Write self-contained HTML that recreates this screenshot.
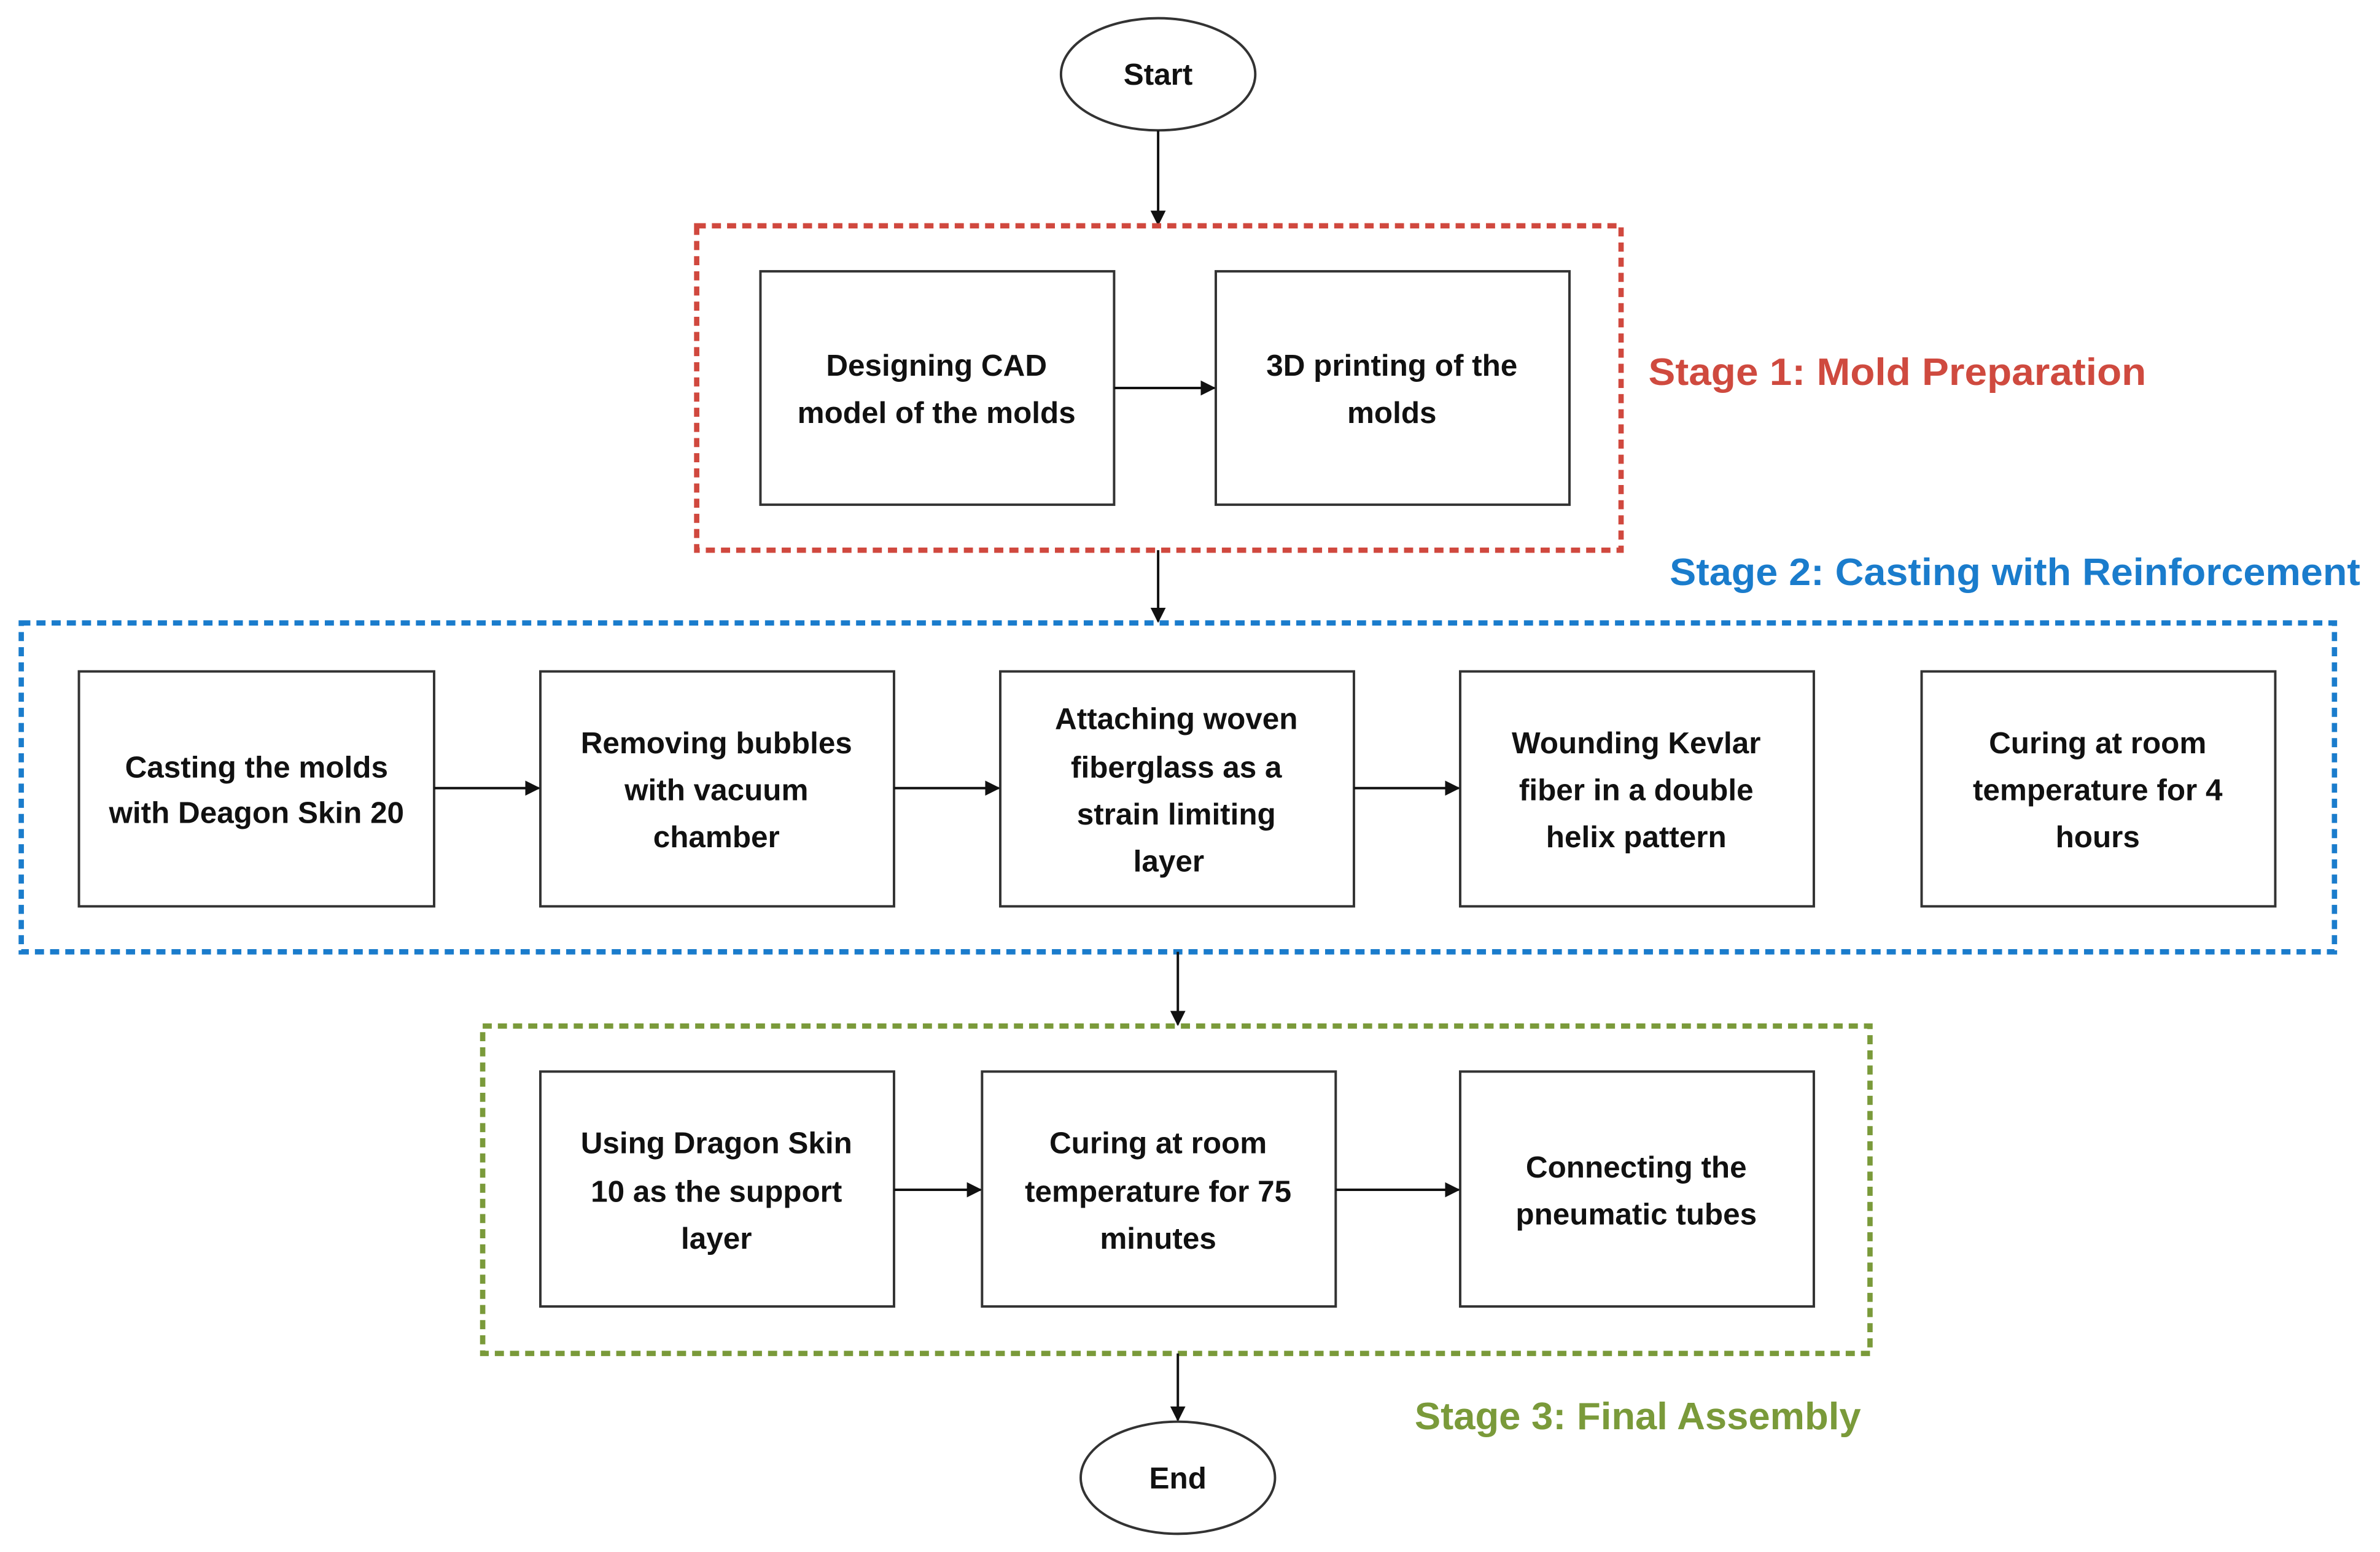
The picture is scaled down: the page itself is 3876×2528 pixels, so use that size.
<!DOCTYPE html>
<html><head><meta charset="utf-8"><style>
html,body{margin:0;padding:0;background:#fff;}
svg{display:block;}
.t{font-family:"Liberation Sans",sans-serif;font-weight:bold;font-size:20px;fill:#111;text-anchor:middle;}
.s{font-family:"Liberation Sans",sans-serif;font-weight:bold;font-size:25px;}
.b{fill:#fff;stroke:#333;stroke-width:1.6;}
.l{stroke:#111;stroke-width:1.6;fill:none;}
</style></head><body>
<svg width="3876" height="2528" viewBox="0 0 1568 1024" preserveAspectRatio="none" xmlns="http://www.w3.org/2000/svg">
<defs><marker id="a" markerWidth="10" markerHeight="10" refX="9" refY="5" orient="auto" markerUnits="userSpaceOnUse"><path d="M0,0 L10,5 L0,10 z" fill="#111"/></marker></defs>
<rect width="1568" height="1024" fill="#fff"/>
<!-- Start -->
<ellipse cx="763" cy="49" rx="64" ry="37" class="b"/>
<text x="763" y="56" class="t">Start</text>
<line x1="763" y1="86" x2="763" y2="148" class="l" marker-end="url(#a)"/>
<!-- Stage 1 -->
<rect x="459" y="149" width="609" height="214" fill="none" stroke="#d0483e" stroke-width="3.5" stroke-dasharray="6,4"/>
<rect x="501" y="179" width="233" height="154" class="b"/>
<rect x="801" y="179" width="233" height="154" class="b"/>
<text class="t"><tspan x="617" y="248">Designing CAD</tspan><tspan x="617" y="279">model of the molds</tspan></text>
<text class="t"><tspan x="917" y="248">3D printing of the</tspan><tspan x="917" y="279">molds</tspan></text>
<line x1="734" y1="256" x2="800" y2="256" class="l" marker-end="url(#a)"/>
<text x="1086" y="254" class="s" fill="#cf4a3f" textLength="328" lengthAdjust="spacingAndGlyphs">Stage 1: Mold Preparation</text>
<line x1="763" y1="363" x2="763" y2="410" class="l" marker-end="url(#a)"/>
<text x="1100" y="386" class="s" fill="#1a7ccc" textLength="455" lengthAdjust="spacingAndGlyphs">Stage 2: Casting with Reinforcement</text>
<!-- Stage 2 -->
<rect x="14" y="411" width="1524" height="217" fill="none" stroke="#1a7ccc" stroke-width="3.5" stroke-dasharray="6,4"/>
<rect x="52" y="443" width="234" height="155" class="b"/>
<rect x="356" y="443" width="233" height="155" class="b"/>
<rect x="659" y="443" width="233" height="155" class="b"/>
<rect x="962" y="443" width="233" height="155" class="b"/>
<rect x="1266" y="443" width="233" height="155" class="b"/>
<text class="t"><tspan x="169" y="513">Casting the molds</tspan><tspan x="169" y="543">with Deagon Skin 20</tspan></text>
<text class="t"><tspan x="472" y="497">Removing bubbles</tspan><tspan x="472" y="528">with vacuum</tspan><tspan x="472" y="559">chamber</tspan></text>
<text class="t"><tspan x="775" y="481">Attaching woven</tspan><tspan x="775" y="513">fiberglass  as a</tspan><tspan x="775" y="544">strain limiting</tspan><tspan x="770" y="575">layer</tspan></text>
<text class="t"><tspan x="1078" y="497">Wounding Kevlar</tspan><tspan x="1078" y="528">fiber in a double</tspan><tspan x="1078" y="559">helix pattern</tspan></text>
<text class="t"><tspan x="1382" y="497">Curing at room</tspan><tspan x="1382" y="528">temperature for 4</tspan><tspan x="1382" y="559">hours</tspan></text>
<line x1="286" y1="520" x2="355" y2="520" class="l" marker-end="url(#a)"/>
<line x1="589" y1="520" x2="658" y2="520" class="l" marker-end="url(#a)"/>
<line x1="892" y1="520" x2="961" y2="520" class="l" marker-end="url(#a)"/>
<line x1="776" y1="628" x2="776" y2="676" class="l" marker-end="url(#a)"/>
<!-- Stage 3 -->
<rect x="318" y="677" width="914" height="216" fill="none" stroke="#7a9a3a" stroke-width="3.5" stroke-dasharray="6,4"/>
<rect x="356" y="707" width="233" height="155" class="b"/>
<rect x="647" y="707" width="233" height="155" class="b"/>
<rect x="962" y="707" width="233" height="155" class="b"/>
<text class="t"><tspan x="472" y="761">Using Dragon Skin</tspan><tspan x="472" y="793">10 as the support</tspan><tspan x="472" y="824">layer</tspan></text>
<text class="t"><tspan x="763" y="761">Curing at room</tspan><tspan x="763" y="793">temperature for 75</tspan><tspan x="763" y="824">minutes</tspan></text>
<text class="t"><tspan x="1078" y="777">Connecting the</tspan><tspan x="1078" y="808">pneumatic tubes</tspan></text>
<line x1="589" y1="785" x2="646" y2="785" class="l" marker-end="url(#a)"/>
<line x1="880" y1="785" x2="961" y2="785" class="l" marker-end="url(#a)"/>
<line x1="776" y1="893" x2="776" y2="937" class="l" marker-end="url(#a)"/>
<text x="932" y="943" class="s" fill="#7a9a3a" textLength="294" lengthAdjust="spacingAndGlyphs">Stage 3: Final Assembly</text>
<ellipse cx="776" cy="975" rx="64" ry="37" class="b"/>
<text x="776" y="982" class="t">End</text>
</svg>
</body></html>
